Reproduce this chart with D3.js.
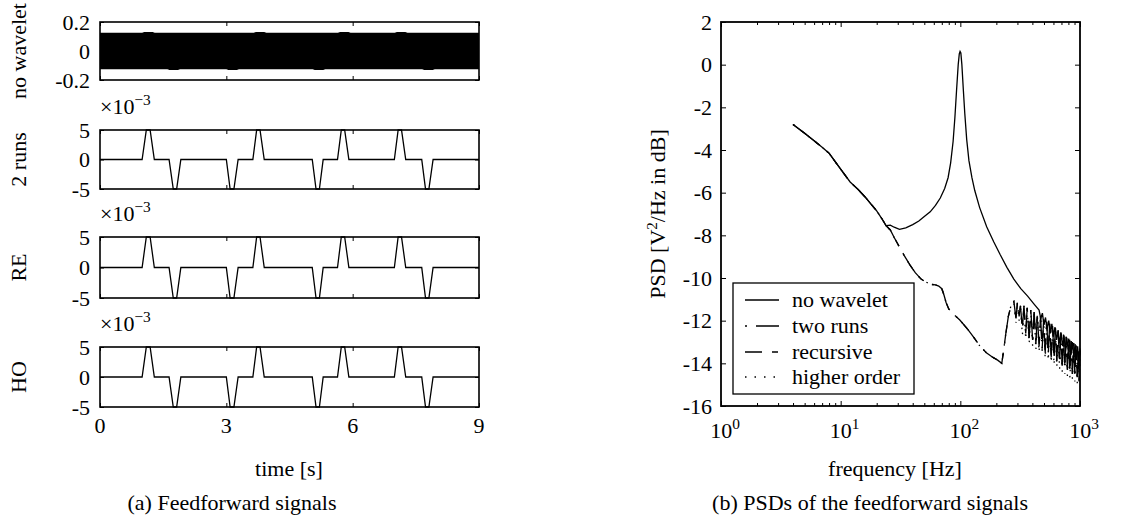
<!DOCTYPE html>
<html><head><meta charset="utf-8">
<script src="https://cdn.jsdelivr.net/npm/d3@7"></script>
<style>
body{margin:0;background:#fff;}
text{font-family:"Liberation Serif","Times New Roman",serif;fill:#000;}
</style></head>
<body><svg id="c" width="1131" height="524"></svg>
<script>
// ---------- Data: left panel (feedforward signals) ----------
const timeTicks = [0, 3, 6, 9];
const panelLabels = ["no wavelet", "2 runs", "RE", "HO"];
// "no wavelet": dense 100 Hz sinusoid drawn as its envelope
const bandTime  = [0, 1.0, 1.05, 1.25, 1.3, 1.6, 1.65, 1.85, 1.9, 3.0, 3.05, 3.25, 3.3, 3.65, 3.7, 3.9, 3.95, 5.05, 5.1, 5.3, 5.35, 5.65, 5.7, 5.9, 5.95, 7.0, 7.05, 7.25, 7.3, 7.65, 7.7, 7.9, 7.95, 9];
const bandUpper = [0.126, 0.126, 0.131, 0.131, 0.126, 0.126, 0.126, 0.126, 0.126, 0.126, 0.126, 0.126, 0.126, 0.126, 0.131, 0.131, 0.126, 0.126, 0.126, 0.126, 0.126, 0.126, 0.131, 0.131, 0.126, 0.126, 0.131, 0.131, 0.126, 0.126, 0.126, 0.126, 0.126, 0.126];
const bandLower = [-0.126, -0.126, -0.126, -0.126, -0.126, -0.126, -0.131, -0.131, -0.126, -0.126, -0.131, -0.131, -0.126, -0.126, -0.126, -0.126, -0.126, -0.126, -0.131, -0.131, -0.126, -0.126, -0.126, -0.126, -0.126, -0.126, -0.126, -0.126, -0.126, -0.126, -0.131, -0.131, -0.126, -0.126];
// wavelet feedforward (x 1e-3), same for 2 runs / RE / HO
const pulseTime  = [0, 1.0, 1.1, 1.19, 1.29, 1.64, 1.74, 1.82, 1.92, 3.0, 3.09, 3.18, 3.28, 3.63, 3.72, 3.8, 3.9, 5.04, 5.13, 5.21, 5.3, 5.64, 5.73, 5.81, 5.91, 6.99, 7.08, 7.16, 7.26, 7.64, 7.73, 7.81, 7.91, 9];
const pulseValue = [0, 0, 5, 5, 0, 0, -5, -5, 0, 0, -5, -5, 0, 0, 5, 5, 0, 0, -5, -5, 0, 0, 5, 5, 0, 0, 5, 5, 0, 0, -5, -5, 0, 0];
const topTicks = [0.2, 0, -0.2];
const topTickLabels = ["0.2", "0", "-0.2"];
const pulseTicks = [5, 0, -5];
const pulseTickLabels = ["5", "0", "-5"];

// ---------- Data: right panel (PSDs) ----------
const psdTicks = [2, 0, -2, -4, -6, -8, -10, -12, -14, -16];
const freqDecades = [1, 10, 100, 1000];
const legendNames = ["no wavelet", "two runs", "recursive", "higher order"];
const nwFreq = [4, 5, 6, 7, 8, 9, 10, 12, 14, 16, 18, 20, 22, 24, 26, 28, 31, 35, 40, 45, 50, 56, 62, 68, 74, 79, 83, 87, 90, 93, 96, 98, 99.5, 101, 103, 106, 109, 113, 118, 125, 132, 145, 166, 190, 215, 245, 280, 320, 365, 410, 455,
  470, 485, 500, 515, 530, 548, 565, 582, 600, 618, 637, 656, 675, 695, 715, 735, 756, 777, 798, 820, 842, 864, 887, 910, 933, 956, 980, 1000];
const nwPsd = [-2.8, -3.22, -3.57, -3.87, -4.15, -4.55, -4.9, -5.5, -5.85, -6.2, -6.55, -6.85, -7.2, -7.55, -7.52, -7.62, -7.72, -7.65, -7.5, -7.33, -7.12, -6.9, -6.6, -6.25, -5.8, -5.3, -4.6, -3.6, -2.5, -1.2, 0.0, 0.5, 0.62, 0.55, 0.0, -1.2, -2.3, -3.5, -4.5, -5.3, -5.9, -6.7, -7.6, -8.3, -8.9, -9.5, -10.05, -10.5, -10.85, -11.2, -11.5,
  -11.9, -11.65, -12.2, -11.85, -12.4, -12.0, -12.6, -12.15, -12.75, -12.3, -12.9, -12.45, -13.05, -12.6, -13.2, -12.7, -13.35, -12.8, -13.45, -12.9, -13.6, -13.0, -13.7, -13.1, -13.85, -13.2, -14.0, -13.3];
const wFreq = [4, 5, 6, 7, 8, 9, 10, 12, 14, 16, 18, 20, 22, 24, 26, 28, 31, 34, 38, 42, 47, 52, 57, 62, 66, 70, 73, 76, 80, 88, 99, 115, 130, 146, 165, 185, 205, 222, 230, 240, 252, 265,
  280, 292, 300, 310, 318, 330, 340, 352, 362, 376, 388, 402, 414, 428, 440, 455, 468, 483, 497, 512, 527, 543, 558, 575, 590, 607, 623, 640, 657, 675, 692, 710, 728, 747, 766, 785, 804, 824, 844, 864, 885, 906, 927, 948, 970, 985, 1000];
const twoRunsPsd = [-2.8, -3.22, -3.57, -3.87, -4.15, -4.55, -4.9, -5.5, -5.85, -6.2, -6.55, -6.85, -7.2, -7.55, -7.75, -8.1, -8.55, -8.95, -9.4, -9.75, -10.05, -10.2, -10.3, -10.32, -10.38, -10.5, -10.8, -11.15, -11.45, -11.7, -11.97, -12.4, -12.8, -13.2, -13.5, -13.7, -13.85, -14.0, -13.4, -12.6, -11.8, -11.3,
  -11.1, -11.9, -11.15, -11.8, -11.3, -12.4, -11.3, -12.6, -11.4, -12.8, -11.5, -12.9, -11.6, -13.1, -11.7, -13.2, -11.8, -13.3, -11.95, -13.5, -12.05, -13.6, -12.15, -13.7, -12.25, -13.8, -12.35, -13.9, -12.45, -14.0, -12.55, -14.1, -12.65, -14.2, -12.75, -14.3, -12.85, -14.4, -12.95, -14.5, -13.05, -14.55, -13.15, -14.65, -13.3, -14.8, -13.4];
const recursivePsd = twoRunsPsd;
const higherOrderPsd = [-2.8, -3.22, -3.57, -3.87, -4.15, -4.55, -4.9, -5.5, -5.85, -6.2, -6.55, -6.85, -7.2, -7.55, -7.75, -8.1, -8.55, -8.95, -9.4, -9.75, -10.05, -10.2, -10.3, -10.32, -10.38, -10.5, -10.8, -11.15, -11.45, -11.7, -11.97, -12.4, -12.8, -13.2, -13.5, -13.7, -13.85, -14.0, -13.4, -12.6, -11.8, -11.3,
  -11.1, -12.1, -11.15, -12.0, -11.3, -12.7, -11.3, -12.9, -11.4, -13.1, -11.5, -13.2, -11.6, -13.4, -11.7, -13.5, -11.8, -13.6, -11.95, -13.8, -12.05, -13.9, -12.15, -14.0, -12.25, -14.1, -12.35, -14.2, -12.45, -14.3, -12.55, -14.4, -12.65, -14.5, -12.75, -14.6, -12.85, -14.7, -12.95, -14.75, -13.05, -14.85, -13.15, -14.95, -13.3, -15.0, -13.4];

// ---------- Drawing ----------
const svg = d3.select("#c");
const FS = 22;
const L = {x0: 100, x1: 479};
const panels = [
  {top: 22, bottom: 80}, {top: 130, bottom: 189}, {top: 237, bottom: 298}, {top: 347, bottom: 407}
];
const xL = d3.scaleLinear().domain([0, 9]).range([L.x0, L.x1]);

function addSup(sel, base, sup, x, y, anchor, fs) {
  const t = sel.append("text").attr("x", x).attr("y", y).attr("text-anchor", anchor).style("font-size", fs + "px");
  t.append("tspan").text(base);
  t.append("tspan").attr("dy", -fs * 0.42).style("font-size", (fs * 0.7) + "px").text(sup);
  return t;
}

panels.forEach((p, i) => {
  const g = svg.append("g");
  const isTop = i === 0;
  const y = d3.scaleLinear().domain(isTop ? [-0.2, 0.2] : [-5, 5]).range([p.bottom, p.top]);
  if (isTop) {
    const pts = bandTime.map((t, k) => ({t, u: bandUpper[k], l: bandLower[k]}));
    g.append("path").datum(pts)
      .attr("d", d3.area().x(d => xL(d.t)).y0(d => y(d.l)).y1(d => y(d.u)))
      .attr("fill", "#000");
  } else {
    const pts = pulseTime.map((t, k) => ({t, v: pulseValue[k]}));
    g.append("path").datum(pts)
      .attr("d", d3.line().x(d => xL(d.t)).y(d => y(d.v)))
      .attr("fill", "none").attr("stroke", "#000").attr("stroke-width", 1.3);
    addSup(svg, "×10", "−3", L.x0, p.top - 16, "start", FS);
  }
  const yt = isTop ? topTicks : pulseTicks;
  const ytl = isTop ? topTickLabels : pulseTickLabels;
  g.append("g").attr("transform", `translate(${L.x0},0)`)
    .call(d3.axisRight(y).tickValues(yt).tickSize(4).tickFormat(""));
  g.append("g").attr("transform", `translate(${L.x1},0)`)
    .call(d3.axisLeft(y).tickValues(yt).tickSize(4).tickFormat(""));
  g.append("g").attr("transform", `translate(0,${p.bottom})`)
    .call(d3.axisTop(xL).tickValues(timeTicks).tickSize(4).tickFormat(""));
  g.append("g").attr("transform", `translate(0,${p.top})`)
    .call(d3.axisBottom(xL).tickValues(timeTicks).tickSize(4).tickFormat(""));
  g.selectAll(".domain").remove();
  g.append("rect").attr("x", L.x0).attr("y", p.top).attr("width", L.x1 - L.x0).attr("height", p.bottom - p.top)
    .attr("fill", "none").attr("stroke", "#000").attr("stroke-width", 1.6);
  yt.forEach((v, k) => {
    g.append("text").attr("x", 90).attr("y", y(v)).attr("dy", "0.35em").attr("text-anchor", "end")
      .style("font-size", FS + "px").text(ytl[k]);
  });
  g.append("text").attr("transform", `translate(26,${(p.top + p.bottom) / 2}) rotate(-90)`)
    .attr("text-anchor", "middle").style("font-size", FS + "px").text(panelLabels[i]);
  if (i === 3) {
    timeTicks.forEach(t => {
      g.append("text").attr("x", xL(t)).attr("y", 433).attr("text-anchor", "middle")
        .style("font-size", FS + "px").text(t);
    });
  }
});
svg.selectAll(".tick line").attr("stroke", "#000").attr("stroke-width", 1);
svg.append("text").attr("x", 289).attr("y", 476).attr("text-anchor", "middle").style("font-size", FS + "px").text("time [s]");
svg.append("text").attr("x", 232).attr("y", 510).attr("text-anchor", "middle").style("font-size", FS + "px").text("(a)  Feedforward signals");

// ---------- Right panel ----------
const R = {x0: 721, x1: 1080, top: 22, bottom: 406};
const xR = d3.scaleLog().domain([1, 1000]).range([R.x0, R.x1]);
const yR = d3.scaleLinear().domain([-16, 2]).range([R.bottom, R.top]);
const gR = svg.append("g");
const minorTicks = [];
[1, 10, 100].forEach(d => { for (let m = 2; m <= 9; m++) minorTicks.push(d * m); });

const series = [
  {f: nwFreq, v: nwPsd, dash: null},
  {f: wFreq, v: twoRunsPsd, dash: "2,9,23,9"},
  {f: wFreq, v: recursivePsd, dash: "17,10,6,10"},
  {f: wFreq, v: higherOrderPsd, dash: "1.5,8"}
];
const lineR = d3.line().x(d => xR(d.f)).y(d => yR(d.v));
series.forEach(s => {
  const pts = s.f.map((f, k) => ({f, v: s.v[k]}));
  gR.append("path").datum(pts).attr("d", lineR).attr("fill", "none")
    .attr("stroke", "#000").attr("stroke-width", 1.3)
    .attr("stroke-dasharray", s.dash);
});

gR.append("g").attr("transform", `translate(${R.x0},0)`).call(d3.axisRight(yR).tickValues(psdTicks).tickSize(5).tickFormat(""));
gR.append("g").attr("transform", `translate(${R.x1},0)`).call(d3.axisLeft(yR).tickValues(psdTicks).tickSize(5).tickFormat(""));
gR.append("g").attr("transform", `translate(0,${R.bottom})`).call(d3.axisTop(xR).tickValues(freqDecades).tickSize(5).tickFormat(""));
gR.append("g").attr("transform", `translate(0,${R.top})`).call(d3.axisBottom(xR).tickValues(freqDecades).tickSize(5).tickFormat(""));
gR.append("g").attr("transform", `translate(0,${R.bottom})`).call(d3.axisTop(xR).tickValues(minorTicks).tickSize(3).tickFormat(""));
gR.append("g").attr("transform", `translate(0,${R.top})`).call(d3.axisBottom(xR).tickValues(minorTicks).tickSize(3).tickFormat(""));
gR.selectAll(".domain").remove();
gR.selectAll(".tick line").attr("stroke", "#000").attr("stroke-width", 1);
gR.append("rect").attr("x", R.x0).attr("y", R.top).attr("width", R.x1 - R.x0).attr("height", R.bottom - R.top)
  .attr("fill", "none").attr("stroke", "#000").attr("stroke-width", 1.8);
psdTicks.forEach(v => {
  gR.append("text").attr("x", 712).attr("y", yR(v)).attr("dy", "0.35em").attr("text-anchor", "end")
    .style("font-size", FS + "px").text(v);
});
freqDecades.forEach((d, k) => {
  addSup(gR, "10", String(k), xR(d) + 4, 438, "middle", FS);
});
const yl = gR.append("text").attr("transform", `translate(665,${(R.top + R.bottom) / 2}) rotate(-90)`)
  .attr("text-anchor", "middle").style("font-size", FS + "px");
yl.append("tspan").text("PSD [V");
yl.append("tspan").attr("dy", -8).style("font-size", "15px").text("2");
yl.append("tspan").attr("dy", 8).text("/Hz in dB]");
gR.append("text").attr("x", 895).attr("y", 476).attr("text-anchor", "middle").style("font-size", FS + "px").text("frequency [Hz]");
gR.append("text").attr("x", 870).attr("y", 510).attr("text-anchor", "middle").style("font-size", FS + "px").text("(b)  PSDs of the feedforward signals");

const lg = gR.append("g");
lg.append("rect").attr("x", 733).attr("y", 283).attr("width", 181).attr("height", 111)
  .attr("fill", "#fff").attr("stroke", "#000").attr("stroke-width", 1.3);
const legendY = [300, 326, 352, 377];
legendNames.forEach((n, k) => {
  lg.append("line").attr("x1", 745).attr("x2", 779).attr("y1", legendY[k]).attr("y2", legendY[k])
    .attr("stroke", "#000").attr("stroke-width", 1.3).attr("stroke-dasharray", series[k].dash);
  lg.append("text").attr("x", 792).attr("y", legendY[k]).attr("dy", "0.32em").style("font-size", FS + "px").text(n);
});
</script></body></html>
